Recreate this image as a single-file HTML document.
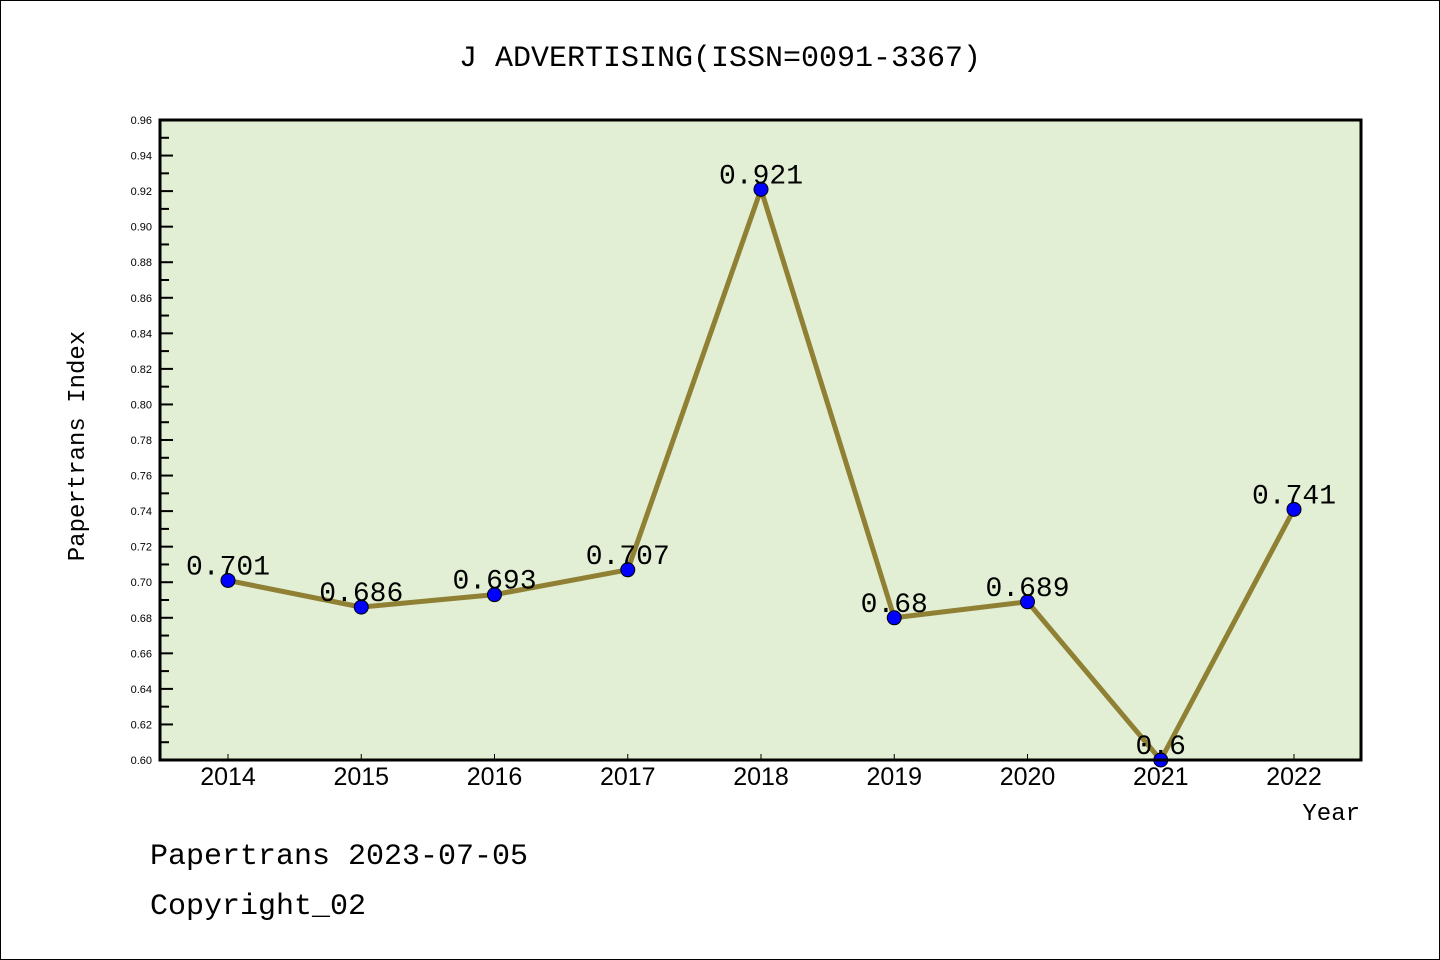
<!DOCTYPE html>
<html><head><meta charset="utf-8"><style>
body{margin:0;background:#fff}
svg{display:block;font-family:"Liberation Sans","WenQuanYi Zen Hei",sans-serif}
</style></head><body>
<svg width="1440" height="960">
<rect x="0.5" y="0.5" width="1439" height="959" fill="#fff" stroke="#000"/>
<text x="720" y="66" text-anchor="middle" font-size="30" font-family="'Liberation Mono',monospace">J ADVERTISING(ISSN=0091-3367)</text>
<rect x="160" y="120" width="1201" height="640" fill="#e2efd5"/>
<g id="yaxis"></g>
<g id="xaxis"></g>
<g id="series"></g>
<rect x="160" y="120" width="1201" height="640" fill="none" stroke="#000" stroke-width="3"/>
<text x="84" y="446" text-anchor="middle" font-size="24" transform="rotate(-90 84 446)" font-family="'Liberation Mono',monospace">Papertrans Index</text>
<text x="1360" y="820" text-anchor="end" font-size="24" font-family="'Liberation Mono',monospace">Year</text>
<text x="150" y="864" font-size="30" font-family="'Liberation Mono',monospace">Papertrans 2023-07-05</text>
<text x="150" y="914" font-size="30" font-family="'Liberation Mono',monospace">Copyright_02</text>
</svg>
<script>
const years=["2014","2015","2016","2017","2018","2019","2020","2021","2022"];
const values=[0.701,0.686,0.693,0.707,0.921,0.68,0.689,0.6,0.741];
const valueLabels=["0.701","0.686","0.693","0.707","0.921","0.68","0.689","0.6","0.741"];
const yTicks=[0.60,0.62,0.64,0.66,0.68,0.70,0.72,0.74,0.76,0.78,0.80,0.82,0.84,0.86,0.88,0.90,0.92,0.94,0.96];
const NS="http://www.w3.org/2000/svg";
const yMin=0.60,yMax=0.96;
function ys(v){return 760-(v-yMin)/(yMax-yMin)*640;}
function xs(i){return 228+i*133.25;}
function mk(t,a,p){const e=document.createElementNS(NS,t);for(const k in a)e.setAttribute(k,a[k]);p.appendChild(e);return e;}
const ya=document.getElementById('yaxis'),xa=document.getElementById('xaxis'),se=document.getElementById('series');
yTicks.forEach((v,i)=>{
 const y=ys(v);
 const t=mk('line',{x1:160,x2:173,y1:y,y2:y,stroke:'#000','stroke-width':2},ya);
 
 
 if(i<yTicks.length-1){const m=mk('line',{x1:160,x2:169,y1:ys(v+0.01),y2:ys(v+0.01),stroke:'#000','stroke-width':2},ya);
 
 }
 const l=mk('text',{x:152,y:y+4,'text-anchor':'end','font-size':11},ya);l.textContent=v.toFixed(2);
 
 
});
years.forEach((yr,i)=>{
 const x=xs(i);
 const t=mk('line',{x1:x,x2:x,y1:760,y2:754,stroke:'#000','stroke-width':1},xa);
 
 
 const l=mk('text',{x:x,y:785,'text-anchor':'middle','font-size':25},xa);l.textContent=yr;
 
 
});
const pts=values.map((v,i)=>xs(i)+','+ys(v)).join(' ');
const pl=mk('polyline',{points:pts,fill:'none',stroke:'#8f8034','stroke-width':5,'stroke-linejoin':'round'},se);


values.forEach((v,i)=>{
 const c=mk('circle',{cx:xs(i),cy:ys(v),r:7,fill:'#0000ff',stroke:'#000','stroke-width':1},se);
 
 
 const l=mk('text',{x:xs(i),y:ys(v)-6,'text-anchor':'middle','font-size':28,'font-family':"'Liberation Mono',monospace"},se);l.textContent=valueLabels[i];
 
 
});
</script>
</body></html>
